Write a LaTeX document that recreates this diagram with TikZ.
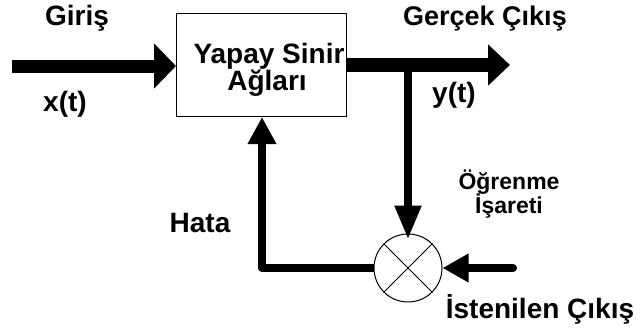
\documentclass[tikz,border=0pt]{standalone}
\usepackage{fontspec}
\setmainfont{Liberation Sans}
\usetikzlibrary{arrows.meta}
\begin{document}
\begin{tikzpicture}[x=1pt,y=-1pt,
  lbl/.style={font=\bfseries\fontsize{28}{28}\selectfont, inner sep=0pt, anchor=base},
  slbl/.style={font=\bfseries\fontsize{23}{23}\selectfont, inner sep=0pt, anchor=base},
  thinline/.style={line width=1pt},
  bigsig/.style={line width=13pt},
  smallsig/.style={line width=8pt}]
\useasboundingbox[fill=white] (0,0) rectangle (641,330);
% block
\node[draw, thinline, minimum width=170pt, minimum height=103pt, inner sep=0pt, anchor=north west] (ysa) at (176,13) {};
\node[lbl] (ysa1) at (269,63) {Yapay Sinir};
\node[lbl] (ysa2) at (267,90) {Ağları};
% multiplier
\node[draw, thinline, circle, minimum size=68pt, inner sep=0pt] (mul) at (408,268) {};
\draw[thinline] (mul.north west) -- (mul.south east);
\draw[thinline] (mul.north east) -- (mul.south west);
% coordinates
\coordinate (in) at (12,66);
\coordinate (out) at (510,65);
\coordinate (br) at (408,65);
\coordinate (fb) at (262,268);
\coordinate (des) at (513,268);
% signals
\draw[bigsig, -{Triangle[length=22pt,width=44pt]}] (in) -- (in -| ysa.west);
\draw[bigsig, line width=14pt, -{Triangle[length=22pt,width=40pt]}] (out -| ysa.east) -- (out);
\draw[smallsig, shorten >=-6pt, -{Triangle[length=34pt,width=25pt]}] (br) -- (mul.north);
\draw[smallsig, line join=round, -{Triangle[length=27pt,width=27pt]}] (mul.west) -- (fb) -- (fb |- ysa.south);
\draw[smallsig, line cap=round, -{Triangle[length=26pt,width=27pt]}] (des) -- (mul.east);
% labels
\node[lbl] (giris) at (77,25) {Giriş};
\node[lbl] (xt) at (65,111) {x(t)};
\node[lbl, font=\bfseries\fontsize{27}{27}\selectfont] (gercek) at (485,25) {Gerçek Çıkış};
\node[lbl] (yt) at (454,102) {y(t)};
\node[slbl] (ogr1) at (509,189) {Öğrenme};
\node[slbl] (ogr2) at (509,213) {İşareti};
\node[lbl] (hata) at (200,232) {Hata};
\node[lbl] (istenilen) at (540,318) {İstenilen Çıkış};
\end{tikzpicture}
\end{document}
